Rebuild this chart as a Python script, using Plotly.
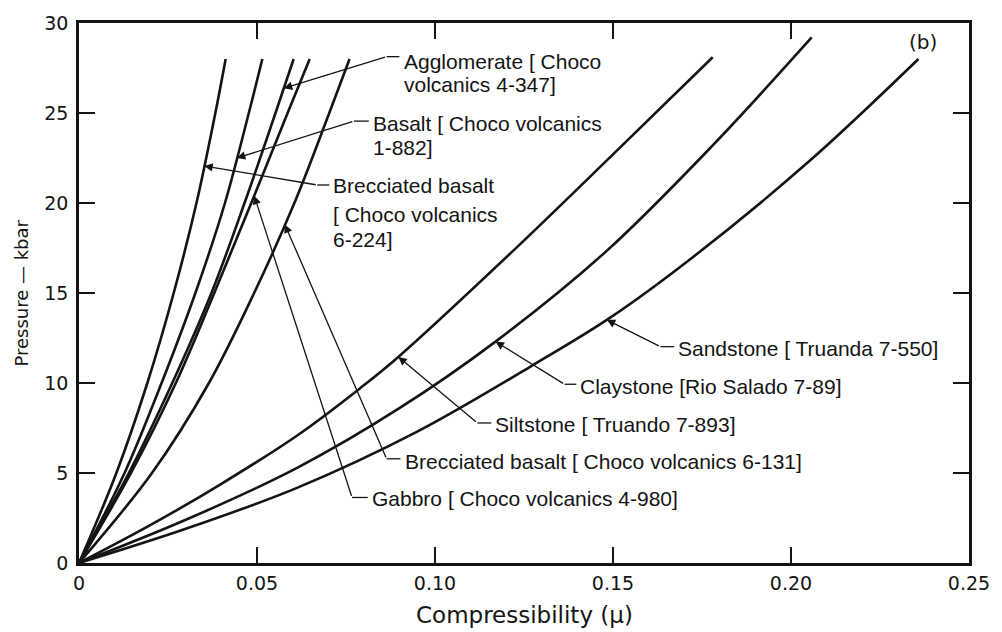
import numpy as np
import plotly.graph_objects as go

# Pressure levels (kbar) at which the steep igneous curves were read
steep_pressure = [0, 5, 10, 15, 20, 25, 28]

breccia_224_mu = [0, 0.0105, 0.0192, 0.0266, 0.0330, 0.0383, 0.0412]
basalt_mu = [0, 0.0128, 0.0232, 0.0327, 0.0410, 0.0477, 0.0515]
agglomerate_mu = [0, 0.0140, 0.0262, 0.0372, 0.0465, 0.0552, 0.0603]
gabbro_mu = [0, 0.0146, 0.0272, 0.0380, 0.0484, 0.0586, 0.0648]
breccia_131_mu = [0, 0.0205, 0.0365, 0.0492, 0.0605, 0.0703, 0.0760]

# Sedimentary curves
siltstone_mu = [0, 0.020, 0.040, 0.0614, 0.0789, 0.0897, 0.1217, 0.150, 0.178]
siltstone_p = [0, 2.1, 4.4, 7.1, 9.7, 11.45, 17.3, 22.7, 28.1]

claystone_mu = [0, 0.030, 0.0614, 0.090, 0.117, 0.148, 0.178, 0.2058]
claystone_p = [0, 2.4, 5.3, 8.6, 12.3, 17.3, 23.2, 29.2]

sandstone_mu = [0, 0.030, 0.0614, 0.095, 0.1267, 0.149, 0.1725, 0.205, 0.2358]
sandstone_p = [0, 1.9, 4.19, 7.3, 10.9, 13.6, 17.0, 22.3, 28.0]

x_ticks = [0, 0.05, 0.10, 0.15, 0.20, 0.25]
x_tick_text = ["0", "0.05", "0.10", "0.15", "0.20", "0.25"]
y_ticks = [0, 5, 10, 15, 20, 25, 30]

curves = {
    "breccia_224": (breccia_224_mu, steep_pressure),
    "basalt": (basalt_mu, steep_pressure),
    "agglomerate": (agglomerate_mu, steep_pressure),
    "gabbro": (gabbro_mu, steep_pressure),
    "breccia_131": (breccia_131_mu, steep_pressure),
    "siltstone": (siltstone_mu, siltstone_p),
    "claystone": (claystone_mu, claystone_p),
    "sandstone": (sandstone_mu, sandstone_p),
}

# Label callouts: curve, pressure where the arrow touches it, elbow of the
# leader, end of the short horizontal stub, and the text lines.
callouts = [
    dict(curve="agglomerate", tip_p=26.37, knee=(0.0864, 28.13), stub=0.0900,
         lines=[("Agglomerate [ Choco", 27.86), ("volcanics 4-347]", 26.59)]),
    dict(curve="basalt", tip_p=22.5, knee=(0.0772, 24.55), stub=0.0814,
         lines=[("Basalt [ Choco volcanics", 24.43), ("1-882]", 23.06)]),
    dict(curve="breccia_224", tip_p=22.06, knee=(0.0669, 21.0), stub=0.0703,
         lines=[("Brecciated basalt", 20.96), ("[ Choco volcanics", 19.36), ("6-224]", 17.98)]),
    dict(curve="sandstone", tip_p=13.51, knee=(0.1633, 12.02), stub=0.1672,
         lines=[("Sandstone [ Truanda 7-550]", 11.91)]),
    dict(curve="claystone", tip_p=12.3, knee=(0.1364, 9.93), stub=0.1397,
         lines=[("Claystone [Rio Salado 7-89]", 9.82)]),
    dict(curve="siltstone", tip_p=11.45, knee=(0.1119, 7.78), stub=0.1158,
         lines=[("Siltstone [ Truando 7-893]", 7.72)]),
    dict(curve="breccia_131", tip_p=18.81, knee=(0.0864, 5.79), stub=0.0903,
         lines=[("Brecciated basalt [ Choco volcanics 6-131]", 5.63)]),
    dict(curve="gabbro", tip_p=20.40, knee=(0.0767, 3.64), stub=0.0811,
         lines=[("Gabbro [ Choco volcanics 4-980]", 3.59)]),
]

INK = "#141414"
LABEL_FONT = dict(family="Liberation Sans", size=21, color=INK)

fig = go.Figure()
for name, (mu, p) in curves.items():
    fig.add_trace(go.Scatter(x=mu, y=p, mode="lines", name=name,
                             line=dict(color=INK, width=2.6, shape="spline", smoothing=1.0),
                             hoverinfo="skip", showlegend=False))

annotations = []
shapes = []
for c in callouts:
    mu, p = curves[c["curve"]]
    tip_x = float(np.interp(c["tip_p"], p, mu))
    kx, ky = c["knee"]
    annotations.append(dict(x=tip_x, y=c["tip_p"], ax=kx, ay=ky, xref="x", yref="y",
                            axref="x", ayref="y", text="", showarrow=True,
                            arrowhead=2, arrowsize=1.3, arrowwidth=1.3,
                            arrowcolor=INK, standoff=0, startstandoff=0))
    shapes.append(dict(type="line", xref="x", yref="y", x0=kx, y0=ky, x1=c["stub"], y1=ky,
                       line=dict(color=INK, width=1.3)))
    for text, ty in c["lines"]:
        annotations.append(dict(x=c["stub"] + 0.0006, y=ty, xref="x", yref="y", text=text,
                                showarrow=False, xanchor="left", yanchor="middle",
                                font=LABEL_FONT))

annotations.append(dict(x=0.2372, y=28.96, xref="x", yref="y", text="(b)", showarrow=False,
                        xanchor="center", yanchor="middle",
                        font=dict(family="DejaVu Sans", size=20, color=INK)))
annotations.append(dict(x=0.5, y=-0.0956, xref="paper", yref="paper",
                        text="Compressibility (\u03bc)", showarrow=False,
                        xanchor="center", yanchor="middle",
                        font=dict(family="DejaVu Sans", size=23, color=INK)))
annotations.append(dict(x=-0.0656, y=0.5, xref="paper", yref="paper",
                        text="Pressure \u2014 kbar", showarrow=False, textangle=-90,
                        xanchor="center", yanchor="middle",
                        font=dict(family="DejaVu Sans", size=18, color=INK)))

axis_common = dict(showgrid=False, zeroline=False, showline=True, linewidth=2.6,
                   linecolor=INK, mirror="ticks", ticks="inside", ticklen=16,
                   tickwidth=1.6, tickcolor=INK,
                   tickfont=dict(family="DejaVu Sans", size=19, color=INK))

fig.update_layout(
    width=1002, height=632,
    margin=dict(l=79, r=24, t=19, b=69),
    paper_bgcolor="white", plot_bgcolor="white",
    xaxis=dict(range=[0, 0.25], tickvals=x_ticks, ticktext=x_tick_text,
               ticklabelstandoff=1, **axis_common),
    yaxis=dict(range=[0, 30], tickvals=y_ticks, ticklabelstandoff=4, **axis_common),
    annotations=annotations,
    shapes=shapes,
)

fig.write_html("out.html")
